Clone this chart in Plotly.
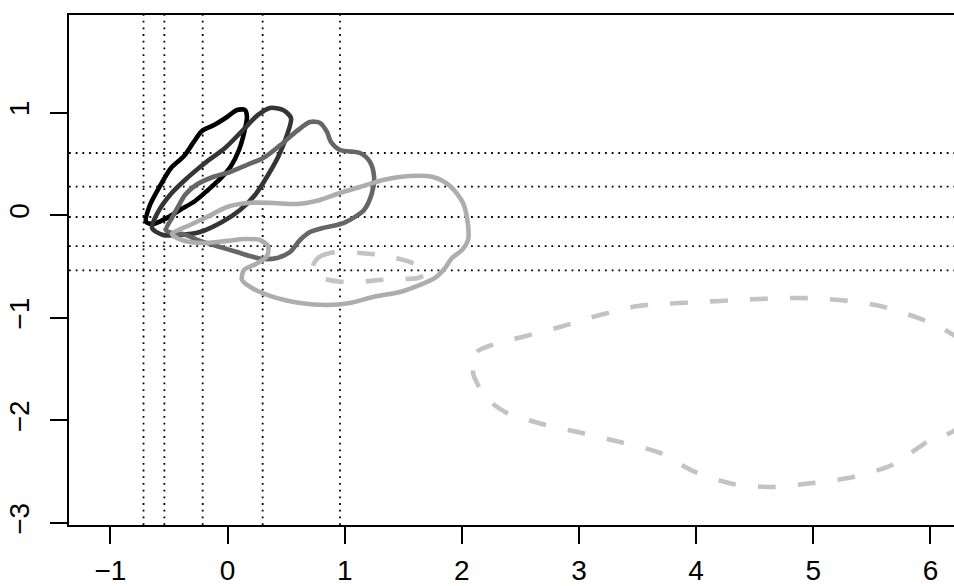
import plotly.graph_objects as go

# ---- contour outlines (data coordinates) ----
black_x = [-0.696, -0.662, -0.576, -0.482, -0.371, -0.294, -0.218, -0.115, -0.004, 0.081,
           0.149, 0.166, 0.141, 0.098, 0.030, -0.055, -0.166, -0.277, -0.405, -0.534, -0.636, -0.696]
black_y = [-0.065, 0.100, 0.286, 0.461, 0.578, 0.705, 0.822, 0.880, 0.958, 1.026,
           1.026, 0.958, 0.802, 0.636, 0.481, 0.364, 0.247, 0.139, 0.052, -0.036, -0.085, -0.065]

dark_x = [-0.644, -0.593, -0.491, -0.363, -0.192, -0.021, 0.132, 0.260, 0.363, 0.474,
          0.542, 0.508, 0.440, 0.346, 0.235, 0.107, -0.047, -0.235, -0.405, -0.551, -0.644]
dark_y = [-0.124, 0.032, 0.198, 0.344, 0.510, 0.656, 0.831, 0.978, 1.046, 1.026,
          0.948, 0.783, 0.588, 0.393, 0.198, 0.052, -0.065, -0.163, -0.192, -0.192, -0.124]

mid_x = [-0.525, -0.474, -0.423, -0.363, -0.269, -0.124, 0.021, 0.166, 0.320, 0.474,
         0.593, 0.704, 0.790, 0.849, 0.883, 0.960, 1.131, 1.216, 1.251, 1.233,
         1.165, 0.994, 0.815, 0.704, 0.619, 0.534, 0.423, 0.303, 0.192, 0.081,
         -0.064, -0.235, -0.380, -0.474, -0.525]
mid_y = [-0.143, -0.026, 0.081, 0.198, 0.295, 0.373, 0.422, 0.490, 0.568, 0.705,
         0.822, 0.909, 0.900, 0.812, 0.714, 0.636, 0.607, 0.520, 0.373, 0.217,
         0.052, -0.075, -0.124, -0.163, -0.241, -0.358, -0.416, -0.426, -0.397, -0.358,
         -0.309, -0.250, -0.182, -0.173, -0.143]

light_x = [-0.474, -0.320, -0.175, -0.004, 0.166, 0.388, 0.593, 0.790, 0.960, 1.131,
           1.327, 1.558, 1.754, 1.899, 2.010, 2.053, 2.053, 2.002, 1.916, 1.857,
           1.771, 1.643, 1.472, 1.242, 1.046, 0.849, 0.619, 0.388, 0.209, 0.124,
           0.141, 0.243, 0.337, 0.346, 0.277, 0.149, -0.004, -0.175, -0.320, -0.431, -0.474]
light_y = [-0.182, -0.095, -0.017, 0.081, 0.120, 0.120, 0.110, 0.149, 0.217, 0.276,
           0.344, 0.383, 0.373, 0.286, 0.120, -0.095, -0.241, -0.338, -0.416, -0.514,
           -0.611, -0.679, -0.748, -0.796, -0.855, -0.874, -0.855, -0.796, -0.709, -0.631,
           -0.533, -0.475, -0.397, -0.299, -0.241, -0.231, -0.250, -0.270, -0.260, -0.221, -0.182]

small_dash_x = [0.721, 0.773, 0.875, 1.003, 1.131, 1.302, 1.430, 1.558, 1.660, 1.703,
                1.626, 1.472, 1.302, 1.131, 0.986, 0.832, 0.738, 0.721]
small_dash_y = [-0.514, -0.416, -0.367, -0.358, -0.367, -0.387, -0.416, -0.455, -0.504, -0.562,
                -0.611, -0.621, -0.631, -0.650, -0.650, -0.621, -0.572, -0.514]

big_dash_x = [2.096, 2.130, 2.258, 2.514, 2.838, 3.180, 3.504, 3.863, 4.204, 4.545,
              4.887, 5.228, 5.570, 5.894, 6.125, 6.338, 6.466, 6.381, 6.167, 6.022,
              5.894, 5.672, 5.339, 4.998, 4.656, 4.315, 3.991, 3.692, 3.350, 3.026,
              2.685, 2.369, 2.198, 2.130, 2.096]
big_dash_y = [-1.537, -1.332, -1.264, -1.186, -1.089, -0.972, -0.884, -0.855, -0.835, -0.816,
              -0.806, -0.826, -0.884, -1.001, -1.118, -1.293, -1.605, -1.946, -2.122, -2.171,
              -2.268, -2.434, -2.551, -2.609, -2.648, -2.619, -2.502, -2.317, -2.210, -2.122,
              -2.034, -1.917, -1.771, -1.635, -1.537]

# reference lines
vlines = [-0.717, -0.539, -0.212, 0.300, 0.960]
hlines = [0.607, 0.279, -0.017, -0.301, -0.537]

x_ticks = [-1, 0, 1, 2, 3, 4, 5, 6]
y_ticks = [-3, -2, -1, 0, 1]

fig = go.Figure()

series = [
    (big_dash_x, big_dash_y, "#c3c3c3", "18px,22px"),
    (small_dash_x, small_dash_y, "#c3c3c3", "18px,22px"),
    (black_x, black_y, "#000000", "solid"),
    (dark_x, dark_y, "#353535", "solid"),
    (mid_x, mid_y, "#666666", "solid"),
    (light_x, light_y, "#adadad", "solid"),
]
for xs, ys, col, dash in series:
    fig.add_trace(go.Scatter(
        x=xs, y=ys, mode="lines",
        line=dict(color=col, width=4.6, dash=dash, shape="spline", smoothing=0.8),
        hoverinfo="skip", showlegend=False,
    ))

dot = dict(color="#000000", width=1.8, dash="1.8px,4.9px")
for v in vlines:
    fig.add_shape(type="line", xref="x", yref="paper", x0=v, x1=v, y0=0, y1=1,
                  line=dot, layer="below")
for h in hlines:
    fig.add_shape(type="line", xref="paper", yref="y", x0=0, x1=1, y0=h, y1=h,
                  line=dot, layer="below")

font = dict(family="Liberation Sans, Arial, Helvetica, sans-serif", size=28, color="#000000")

fig.update_layout(
    width=954, height=586,
    margin=dict(l=69, r=0, t=15, b=61),
    paper_bgcolor="white", plot_bgcolor="white",
    font=font,
    xaxis=dict(
        range=[-1.353, 6.201], tickvals=x_ticks, ticks="outside", ticklen=17,
        tickwidth=1.8, tickcolor="#000000", showline=True, linecolor="#000000",
        linewidth=2, mirror=True, showgrid=False, zeroline=False,
        tickfont=font, ticklabelstandoff=2,
    ),
    yaxis=dict(
        range=[-3.019, 1.952], tickvals=y_ticks, ticks="outside", ticklen=17,
        tickwidth=1.8, tickcolor="#000000", showline=True, linecolor="#000000",
        linewidth=2, mirror=False, showgrid=False, zeroline=False,
        tickfont=font, tickangle=-90, ticklabelstandoff=10,
    ),
)

fig.write_html("out.html")
